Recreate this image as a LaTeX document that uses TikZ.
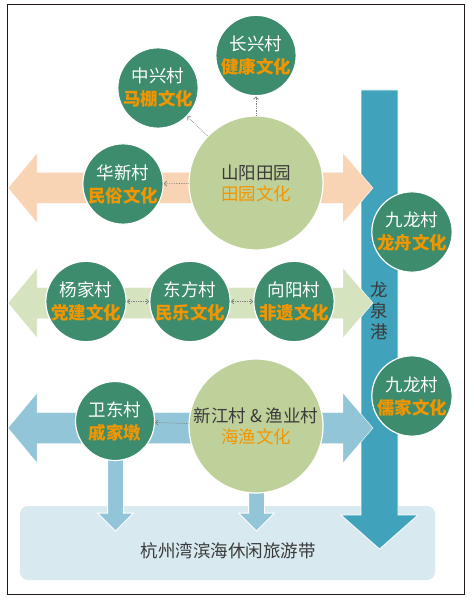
\documentclass[tikz,border=0pt]{standalone}
\usepackage{fontspec}
\setmainfont{Noto Sans CJK SC}
\usetikzlibrary{arrows.meta}

\definecolor{cundark}{HTML}{3D8C6D}
\definecolor{hubgreen}{HTML}{BFD19B}
\definecolor{cult}{HTML}{F29600}
\definecolor{peach}{HTML}{F8D3B4}
\definecolor{sage}{HTML}{D5E3BF}
\definecolor{sky}{HTML}{92C5D7}
\definecolor{gangblue}{HTML}{40A2BB}
\definecolor{beltbox}{HTML}{D8E9EF}
\definecolor{textdark}{HTML}{3A3A3A}
\definecolor{framecol}{HTML}{231815}

\newcommand{\wenhua}[1]{{\bfseries\color{cult}#1}}

\begin{document}
\begin{tikzpicture}[x=1pt,y=-1pt,
  village/.style={circle,fill=cundark,draw=white,line width=1.2pt,
    minimum size=79pt,inner sep=0pt,align=center,text=white,
    font=\fontsize{17.5}{23}\selectfont},
  hub/.style={circle,fill=hubgreen,draw=white,line width=1.2pt,
    minimum size=134pt,inner sep=0pt,align=center,text=textdark,
    font=\fontsize{17.5}{21}\selectfont},
  link/.style={densely dotted,draw=gray,line width=0.7pt,
    -{Straight Barb[length=2.5pt,width=5pt]}},
  twolink/.style={link,{Straight Barb[length=2.5pt,width=5pt]}-{Straight Barb[length=2.5pt,width=5pt]}}]

\useasboundingbox (0,0) rectangle (473,601);
\draw[line width=1pt,framecol] (7,5) rectangle (464,594);

%=== 旅游带 ===
\fill[beltbox,rounded corners=8pt] (20,506) rectangle (435,580);
\node[text=textdark,font=\fontsize{17.5}{20}\selectfont] (belt) at (228,551) {杭州湾滨海休闲旅游带};

%=== 龙泉港 ===
\fill[gangblue,draw=white,line width=0.8pt]
  (361,90) -- (398,90) -- (398,515) -- (418,515) -- (379.5,549)
  -- (341,515) -- (361,515) -- cycle;
\node[text=textdark,align=center,font=\fontsize{17.5}{21}\selectfont] (gang) at (379.5,311) {龙\\泉\\港};

%=== 三条横向箭头 ===
\foreach \yy/\cc in {188/peach,303/sage,428/sky}{
  \fill[\cc,draw=white,line width=0.4pt]
    (8,\yy) -- (37,\yy-35) -- (37,\yy-15.5) -- (343,\yy-15.5) -- (343,\yy-35)
    -- (373,\yy) -- (343,\yy+35) -- (343,\yy+15.5) -- (37,\yy+15.5)
    -- (37,\yy+35) -- cycle;
}

% 向下箭头
\foreach \xx/\ytop in {115.5/440,256.5/470}{
  \fill[sky,draw=white,line width=1pt]
    (\xx-8,\ytop) -- (\xx+8,\ytop) -- (\xx+8,513) -- (\xx+18,513)
    -- (\xx,531) -- (\xx-18,513) -- (\xx-8,513) -- cycle;
}

%=== 圆 ===
\node[village] (cx) at (256,55.5) {长兴村\\\wenhua{健康文化}};
\node[village] (zx) at (158,88) {中兴村\\\wenhua{马棚文化}};
\node[hub] (sy) at (256,183) {山阳田园\\{\color{cult}田园文化}};
\node[village] (hx) at (123,184) {华新村\\\wenhua{民俗文化}};

\node[village] (jl1) at (412,232) {九龙村\\\wenhua{龙舟文化}};
\node[village] (jl2) at (412,396) {九龙村\\\wenhua{儒家文化}};

\node[village] (yj) at (86,301.5) {杨家村\\\wenhua{党建文化}};
\node[village] (df) at (190,301.5) {东方村\\\wenhua{民乐文化}};
\node[village] (xy) at (294,301.5) {向阳村\\\wenhua{非遗文化}};

\node[village] (wd) at (115,421) {卫东村\\\wenhua{戚家墩}};
\node[hub] (xj) at (256,426) {新江村 \& 渔业村\\{\color{cult}海渔文化}};

%=== 虚线 ===
\draw[link] (sy) -- (cx);
\draw[link] (sy) -- (zx);
\draw[link] (sy) -- (hx);
\draw[link] (xj) -- (wd);
\draw[twolink] (yj) -- (df);
\draw[twolink] (df) -- (xy);

\end{tikzpicture}
\end{document}
